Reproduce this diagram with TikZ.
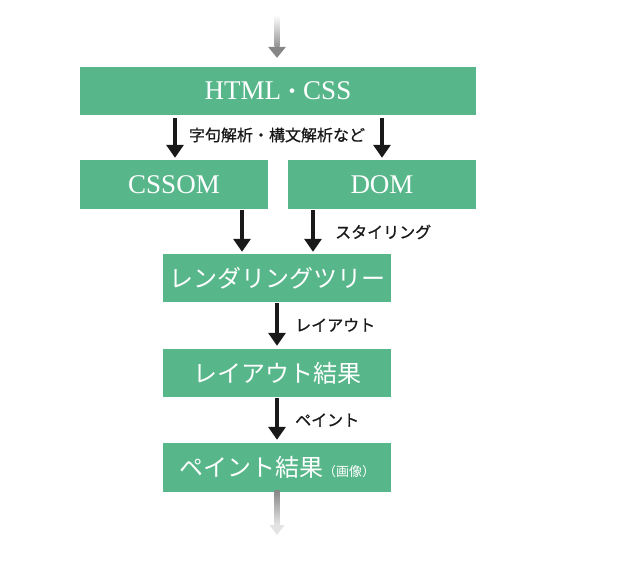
\documentclass[tikz,border=0pt]{standalone}
\usepackage{fontspec}
\setmainfont{Liberation Serif}
\newfontfamily\jp{Noto Sans CJK JP}
\newfontfamily\jpm{Noto Sans CJK JP}[FakeBold=0.8]
\usetikzlibrary{arrows.meta,calc}
\definecolor{boxgreen}{RGB}{88,183,138}
\definecolor{labelink}{RGB}{25,25,25}
\begin{document}
\begin{tikzpicture}[x=1pt,y=-1pt,
  box/.style={fill=boxgreen, draw=none, text=white, inner sep=0pt, anchor=center},
  arr/.style={line width=3.5pt, -{Triangle[width=17pt,length=13pt]}, draw=labelink, fill=labelink},
  lbl/.style={text=labelink, font=\jpm\fontsize{16}{18}\selectfont, inner sep=0pt},
  latinfont/.style={font=\fontsize{27}{30}\selectfont},
  jpfont/.style={font=\jp\fontsize{24}{28}\selectfont}]
\useasboundingbox (0,0) rectangle (623,573);

% boxes
\node[box, latinfont, minimum width=396pt, minimum height=48pt] (html) at (278,91) {HTML{\jp\fontsize{22}{26}\selectfont ・}CSS};
\node[box, latinfont, minimum width=188pt, minimum height=49pt] (cssom) at (174,184.5) {CSSOM};
\node[box, latinfont, minimum width=188pt, minimum height=49pt] (dom) at (382,184.5) {DOM};
\node[box, jpfont, minimum width=228pt, minimum height=48pt] (render) at (277,278) {レンダリングツリー};
\node[box, jpfont, minimum width=228pt, minimum height=48pt] (layout) at (277,373) {レイアウト結果};
\node[box, jpfont, minimum width=228pt, minimum height=49pt] (paint) at (277,467.5) {ペイント結果{\fontsize{13}{15}\selectfont （画像）}};

% column coordinates
\coordinate (cL) at (175,0);
\coordinate (cA) at (242,0);
\coordinate (cB) at (313,0);

% arrows
\draw[arr, shorten <=3pt, shorten >=2pt] (html.south -| cL) -- (cssom.north -| cL);
\draw[arr, shorten <=3pt, shorten >=2pt] (html.south -| dom) -- (dom.north);
\draw[arr, shorten <=1pt, shorten >=2pt] (cssom.south -| cA) -- (render.north -| cA);
\draw[arr, shorten <=1pt, shorten >=2pt] (dom.south -| cB) -- (render.north -| cB);
\draw[arr, shorten <=1pt, shorten >=3pt] (render.south) -- (layout.north);
\draw[arr, shorten <=1pt, shorten >=3pt] (layout.south) -- (paint.north);

% labels
\node[lbl] (l1) at (277,135) {字句解析・構文解析など};
\node[lbl, anchor=west] (l2) at (335,232) {スタイリング};
\node[lbl, anchor=west] (l3) at (295,325) {レイアウト};
\node[lbl, anchor=west] (l4) at (295,420) {ペイント};

% faded input arrow
\coordinate (tin) at (277,15);
\coordinate (ttip) at ($(html.north)+(-1,-9)$);
\shade[top color=white, bottom color=gray!85] ($(tin)+(-2.5,0)$) rectangle ($(ttip)+(2.5,-11)$);
\fill[gray!95] (ttip) -- ++(-9,-11) -- ++(18,0) -- cycle;

% faded output arrow
\coordinate (bout) at (277,535);
\shade[top color=gray!95, bottom color=gray!20] ($(paint.south)+(-2.5,-2)$) rectangle ($(bout)+(2.5,-10)$);
\fill[gray!22] (bout) -- ++(-7.5,-10) -- ++(15,0) -- cycle;
\end{tikzpicture}
\end{document}
